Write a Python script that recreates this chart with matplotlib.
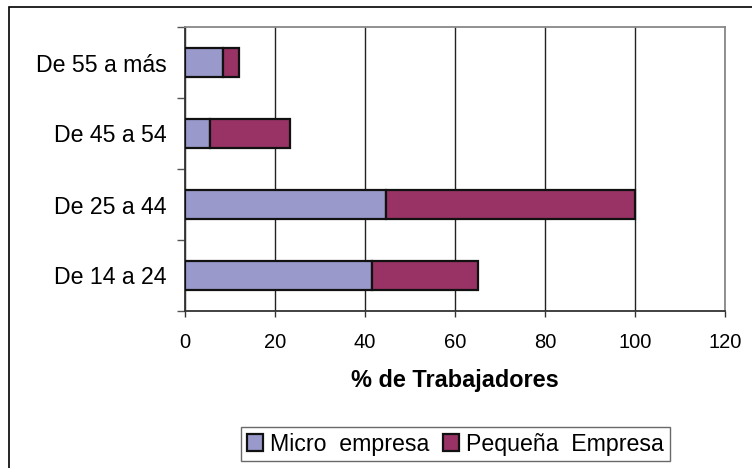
import matplotlib.pyplot as plt
from matplotlib.patches import Rectangle

# data
categorias = ["De 14 a 24", "De 25 a 44", "De 45 a 54", "De 55 a más"]
micro = [41.6, 44.6, 5.6, 8.4]
pequena = [23.5, 55.4, 17.7, 3.6]
xticks = [0, 20, 40, 60, 80, 100, 120]

plt.rcParams["font.family"] = ["Liberation Sans", "DejaVu Sans"]

fig = plt.figure(figsize=(7.52, 4.68), dpi=100)
ax = fig.add_axes([185 / 752, 1 - 311 / 468, 540 / 752, 284 / 468])

# outer chart border
fig.patches.append(Rectangle((9 / 752, -0.05), 1.2, 1 - 7 / 468 + 0.05,
                             transform=fig.transFigure, fill=False,
                             edgecolor="black", linewidth=1.2, zorder=0))

y = range(len(categorias))
ax.barh(y, micro, height=0.41, color="#9999CC", edgecolor="#111111",
        linewidth=1.6, label="Micro  empresa", zorder=3)
ax.barh(y, pequena, left=micro, height=0.41, color="#993366",
        edgecolor="#111111", linewidth=1.6, label="Pequeña  Empresa", zorder=3)

ax.set_xlim(0, 120)
ax.set_ylim(-0.5, len(categorias) - 0.5)
ax.set_xticks(xticks)
ax.set_xticklabels([str(v) for v in xticks], fontsize=14.5)
ax.xaxis.grid(True, color="#222222", linewidth=1.0, zorder=0)
ax.set_axisbelow(True)

# labels at the center, ticks on the category boundaries
ax.set_yticks(list(y))
ax.set_yticklabels(categorias, fontsize=16.7)
ax.tick_params(axis="y", length=0, pad=13)
ax.set_yticks([i + 0.5 for i in range(-1, len(categorias))], minor=True)
ax.tick_params(axis="y", which="minor", length=6, width=1, color="#555555",
               direction="out")
ax.tick_params(axis="x", length=4.5, width=1, color="#333333", pad=11.5)

ax.set_xlabel("% de Trabajadores", fontsize=16.9, fontweight="bold", labelpad=12)

ax.spines["left"].set_color("#333333")
ax.spines["bottom"].set_color("#333333")
ax.spines["top"].set_color("#888888")
ax.spines["right"].set_color("#888888")
for s in ax.spines.values():
    s.set_linewidth(1.3)

leg = fig.legend(loc="center", bbox_to_anchor=(455.5 / 752, 1 - 444 / 468),
                 ncol=2, fontsize=16.7, frameon=True, fancybox=False,
                 handlelength=0.7, handleheight=0.7, handletextpad=0.3,
                 columnspacing=0.6, borderpad=0.25, borderaxespad=0)
leg.get_frame().set_edgecolor("#444444")
leg.get_frame().set_linewidth(1.0)

fig.savefig("out.png", dpi=100)
